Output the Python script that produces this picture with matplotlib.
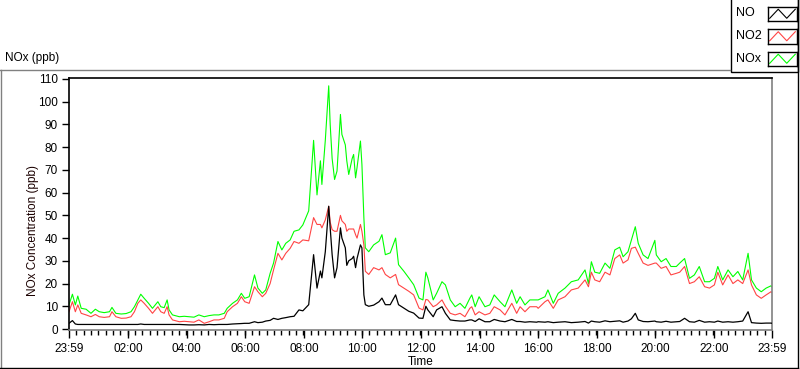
import matplotlib
matplotlib.use("Agg")
import matplotlib.pyplot as plt
from matplotlib.lines import Line2D
from matplotlib.patches import Rectangle
import numpy as np

plt.rcParams['font.family'] = ['Liberation Sans', 'DejaVu Sans']

# ---------------- data (minutes after 23:59 start) ----------------
time_min = [0, 7, 13, 18, 25, 35, 45, 54, 62, 72, 83, 88, 96, 107, 117, 127, 134, 141, 147, 154,
            163, 171, 182, 188, 195, 201, 205, 212, 226, 236, 246, 256, 266, 277, 287, 297, 307, 318, 324, 335,
            345, 353, 360, 369, 380, 387, 396, 403, 412, 419, 428, 436, 444, 453, 461, 471, 479, 491, 501, 508,
            515, 518, 525, 532, 535, 539, 544, 549, 556, 559, 566, 569, 573, 580, 583, 587, 590, 597, 600, 604,
            607, 614, 624, 635, 641, 648, 658, 669, 675, 686, 696, 706, 717, 725, 731, 735, 746, 753, 764, 771,
            781, 791, 801, 811, 821, 825, 832, 840, 852, 862, 871, 883, 893, 907, 917, 924, 934, 944, 958, 961,
            975, 981, 992, 1002, 1016, 1029, 1043, 1057, 1064, 1070, 1077, 1087, 1098, 1108, 1118, 1128, 1135, 1145, 1152, 1160,
            1166, 1176, 1186, 1200, 1203, 1213, 1223, 1233, 1244, 1251, 1261, 1271, 1281, 1291, 1302, 1312, 1322, 1329, 1339, 1350,
            1360, 1370, 1380, 1391, 1398, 1408, 1418, 1428, 1438, 1440]

nox = [10.6, 15.3, 10.6, 14.5, 9.1, 8.7, 6.9, 8.7, 7.6, 7.2, 7.6, 9.5, 6.9, 6.6, 6.8, 7.6, 9.8, 12.8, 15.3, 13.5,
       11.3, 9.1, 12.0, 9.8, 9.4, 12.8, 8.4, 6.2, 5.4, 5.6, 5.4, 5.2, 6.2, 5.4, 5.9, 6.2, 6.2, 6.9, 9.1, 11.3,
       12.8, 15.7, 13.5, 14.2, 23.8, 18.0, 15.7, 17.2, 24.5, 29.0, 38.5, 34.8, 37.7, 39.2, 43.0, 43.6, 45.8, 52.0, 83.0, 59.0,
       74.0, 63.6, 83.0, 107.0, 90.0, 75.0, 65.8, 69.5, 94.4, 85.6, 81.0, 74.0, 68.0, 75.0, 76.8, 66.5, 71.0, 82.7, 72.4, 49.0,
       35.7, 34.0, 37.0, 38.6, 41.5, 32.7, 33.5, 40.0, 28.3, 25.4, 22.5, 19.5, 13.6, 12.8, 25.0, 22.5, 12.8, 15.7, 20.8, 19.4,
       12.8, 9.8, 11.3, 9.1, 13.5, 15.0, 9.8, 14.2, 9.8, 10.6, 15.0, 12.0, 9.8, 17.2, 11.3, 14.2, 10.6, 12.8, 12.8, 12.8,
       14.2, 17.2, 11.3, 15.7, 18.0, 20.8, 21.6, 26.0, 20.0, 29.6, 25.0, 24.5, 29.0, 26.7, 34.8, 36.0, 31.8, 34.0, 39.2, 45.0,
       37.7, 32.6, 31.0, 39.0, 32.6, 29.6, 31.0, 27.5, 27.5, 29.0, 31.0, 22.3, 23.8, 27.5, 20.8, 20.8, 22.3, 27.5, 21.6, 26.0,
       23.0, 25.3, 21.6, 33.3, 21.6, 18.0, 16.4, 18.0, 19.0, 18.5]

no2 = [7.6, 12.0, 7.6, 10.6, 6.9, 6.2, 5.4, 6.4, 5.4, 5.1, 5.4, 7.6, 5.4, 4.7, 4.8, 5.4, 7.6, 11.3, 12.8, 11.3,
       9.1, 6.9, 9.8, 7.6, 6.9, 9.8, 6.2, 4.0, 3.2, 3.4, 3.2, 3.0, 4.0, 2.5, 3.2, 4.0, 4.0, 4.7, 7.6, 9.8,
       11.3, 14.2, 12.0, 11.3, 18.6, 16.4, 14.2, 15.7, 20.0, 26.0, 33.3, 30.4, 33.3, 35.5, 38.5, 37.7, 39.2, 38.8, 49.0, 46.0,
       46.0, 44.5, 48.0, 54.0, 47.0, 43.7, 43.0, 43.0, 50.0, 47.6, 46.0, 43.0, 44.0, 44.0, 44.0, 41.5, 40.0, 46.0, 43.0, 37.0,
       25.4, 24.0, 27.0, 26.0, 27.0, 24.0, 22.5, 24.0, 19.5, 18.0, 16.6, 15.0, 9.2, 8.4, 13.0, 12.8, 9.8, 10.6, 12.8, 10.0,
       6.9, 6.2, 6.9, 5.4, 9.1, 9.8, 6.2, 7.6, 6.2, 6.9, 9.8, 8.4, 6.2, 11.3, 6.9, 9.8, 7.6, 9.8, 9.8, 9.1,
       12.0, 12.8, 9.1, 12.8, 14.2, 17.2, 18.0, 21.6, 18.6, 25.0, 21.6, 20.8, 25.0, 23.8, 31.0, 32.6, 29.0, 30.4, 35.5, 36.0,
       33.3, 29.0, 28.0, 29.0, 29.0, 26.7, 27.5, 23.8, 24.5, 25.0, 27.5, 20.0, 20.8, 23.0, 18.6, 18.0, 19.4, 25.0, 19.4, 23.8,
       20.0, 21.6, 20.0, 26.0, 19.4, 15.0, 13.5, 15.0, 16.4, 16.0]

no = [2.5, 3.7, 2.2, 2.0, 2.0, 2.0, 2.0, 2.0, 2.0, 2.0, 2.0, 2.0, 2.0, 2.0, 2.0, 2.0, 2.0, 2.0, 2.2, 2.0,
      2.0, 2.0, 2.0, 2.0, 2.0, 2.0, 2.0, 2.0, 2.0, 1.9, 1.8, 1.8, 1.9, 1.8, 2.0, 1.9, 2.0, 2.0, 2.0, 2.2,
      2.3, 2.4, 2.5, 2.5, 3.2, 2.8, 3.0, 3.5, 3.8, 4.7, 4.2, 4.7, 5.0, 5.4, 5.6, 8.4, 8.0, 10.7, 32.7, 18.0,
      25.5, 22.5, 34.0, 54.0, 44.5, 32.7, 22.5, 27.0, 44.5, 40.0, 35.7, 28.0, 30.0, 31.0, 32.0, 27.0, 31.0, 37.0, 35.7, 15.0,
      10.7, 10.0, 10.5, 12.0, 13.6, 10.7, 10.7, 15.0, 10.7, 9.2, 7.8, 7.0, 4.8, 4.7, 10.0, 8.4, 5.4, 8.4, 9.8, 6.9,
      4.0, 3.7, 3.5, 3.5, 4.0, 4.0, 3.3, 4.5, 3.2, 3.2, 4.2, 3.5, 3.2, 4.2, 3.3, 3.3, 3.0, 3.2, 3.0, 3.2,
      3.0, 3.2, 2.8, 3.0, 3.2, 2.8, 3.0, 3.3, 2.6, 3.5, 3.2, 3.0, 3.6, 3.2, 3.4, 3.6, 3.0, 3.5, 4.5, 6.9,
      4.0, 3.3, 3.2, 3.5, 3.2, 3.0, 3.4, 3.0, 3.2, 3.3, 4.7, 3.2, 3.0, 3.8, 3.0, 3.2, 3.0, 3.5, 3.0, 3.2,
      3.0, 3.2, 3.5, 7.6, 2.8, 2.6, 2.5, 2.6, 2.6, 2.5]

series_names = ["NO", "NO2", "NOx"]
series_colors = ["#000000", "#FF4444", "#00FF00"]
xtick_labels = ["23:59", "02:00", "04:00", "06:00", "08:00", "10:00", "12:00",
                "14:00", "16:00", "18:00", "20:00", "22:00", "23:59"]
ytick_values = list(range(0, 111, 10))

# ---------------- figure ----------------
W, H = 800, 369
fig = plt.figure(figsize=(W / 100, H / 100), dpi=100)
fig.patch.set_facecolor("white")

def fx(px):
    return px / W

def fy(py):
    return 1 - py / H

# outer panel border (LabVIEW style)
fig.add_artist(Line2D([fx(0), fx(730)], [fy(69.5), fy(69.5)], color="#808080", lw=1.0))
fig.add_artist(Line2D([fx(0.5), fx(0.5)], [fy(69.5), fy(367.5)], color="#808080", lw=1.0))
fig.add_artist(Line2D([fx(0), fx(798)], [fy(367.5), fy(367.5)], color="black", lw=1.0))
fig.add_artist(Line2D([fx(797.5), fx(797.5)], [fy(0), fy(367.5)], color="black", lw=1.0))

ax = fig.add_axes([fx(69), fy(330), fx(772) - fx(69), fy(78) - fy(330)])
ax.set_facecolor("white")

t = np.array(time_min, dtype=float)
ax.plot(t, nox, color=series_colors[2], lw=0.8, label="NOx", zorder=2)
ax.plot(t, no2, color=series_colors[1], lw=0.8, label="NO2", zorder=2)
ax.plot(t, no, color=series_colors[0], lw=0.9, label="NO", zorder=3)

ax.set_xlim(0, 1440)
ax.set_ylim(-0.44, 110.44)

major_x = [0] + [121 + 120 * k for k in range(11)] + [1440]
ax.set_xticks(major_x)
ax.set_xticklabels(xtick_labels)
ax.set_xticks(np.arange(0, 1441, 15), minor=True)
ax.set_yticks(ytick_values)
ax.set_yticklabels([str(v) for v in ytick_values])

ax.tick_params(axis="x", which="major", direction="out", length=6, width=1, pad=3,
               labelsize=8.5, colors="black")
ax.tick_params(axis="x", which="minor", direction="out", length=3.5, width=1, colors="black")
ax.tick_params(axis="y", which="major", direction="out", length=5, width=1, pad=3,
               labelsize=8.5, colors="black")

for side in ["top", "left"]:
    ax.spines[side].set_color("black")
    ax.spines[side].set_linewidth(1.2)
for side in ["bottom", "right"]:
    ax.spines[side].set_color("#808080")
    ax.spines[side].set_linewidth(1.2)

ax.set_xlabel("Time", fontsize=8.5, labelpad=1)
fig.text(fx(33), fy(230), "NOx Concentration (ppb)", rotation=90, ha="center", va="center",
         fontsize=8.5, color="#1a0000")
fig.text(fx(5), fy(58), "NOx (ppb)", ha="left", va="center", fontsize=8.5)

# legend box
fig.add_artist(Rectangle((fx(730.5), fy(71.5)), fx(798) - fx(730.5), fy(-2) - fy(71.5),
                         facecolor="white", edgecolor="black", lw=1.0, zorder=1))
leg_rows = [(13.5, 6.5, 21), (36, 29, 43.5), (59, 51.5, 66)]
for (cy, top, bot), name, col in zip(leg_rows, series_names, series_colors):
    fig.text(fx(736), fy(cy), name, ha="left", va="center", fontsize=9, zorder=5)
    sax = fig.add_axes([fx(768), fy(bot), fx(797) - fx(768), fy(top) - fy(bot)], zorder=5)
    sax.set_xlim(-0.2, 3.2)
    sax.set_ylim(-0.3, 1.3)
    sax.plot([0, 1, 2, 3], [0, 1, 0, 1], color=col, lw=0.8)
    sax.set_xticks([])
    sax.set_yticks([])
    for sp in sax.spines.values():
        sp.set_color("black")
        sp.set_linewidth(1.0)

fig.savefig("out.png", dpi=100, facecolor="white")
